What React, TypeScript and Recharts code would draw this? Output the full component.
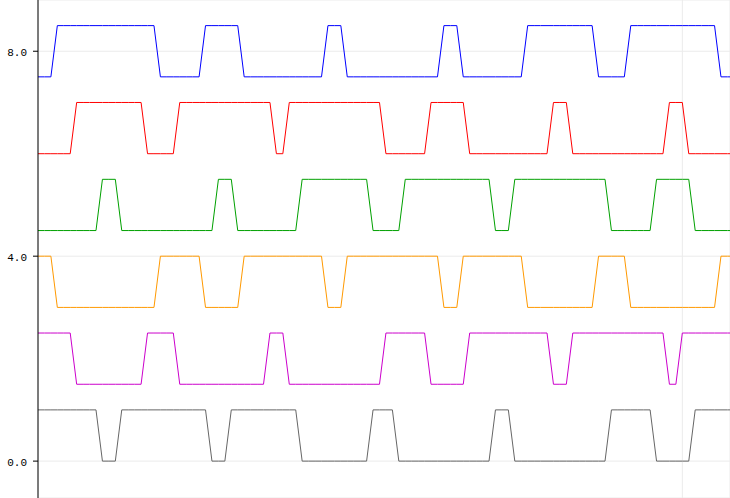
import React from "react";
import { CartesianGrid, Line, LineChart, XAxis, YAxis } from "recharts";

// one character per sample (t = 0..108), 1 = high, 0 = low
const blueBits =
  "0001111111 1111111110 0000001111 1100000000 0000011100 0000000000 0001110000 0000001111 1111111000 0011111111 111111000";
const redBits =
  "0000001111 1111111000 0011111111 1111111001 1111111111 1111000000 0111111000 0000000000 1110000000 0000000011 100000000";
const greenBits =
  "0000000000 1110000000 0000000011 1000000000 0111111111 1100000111 1111111111 1000111111 1111111110 0000001111 110000000";
const orangeBits =
  "1110000000 0000000001 1111110000 0011111111 1111100011 1111111111 1110001111 1111110000 0000000111 1100000000 000000111";
const magentaBits =
  "1111110000 0000000111 1100000000 0000001110 0000000000 0000111111 1000000111 1111111111 0001111111 1111111100 111111111";
const grayBits =
  "1111111111 0001111111 1111111000 1111111111 1000000000 0011110000 0000000000 0111000000 0000000001 1111110000 001111111";

// base level of each trace
const signals = [
  { key: "blue", bits: blueBits, base: 7.5, color: "#0000ff" },
  { key: "red", bits: redBits, base: 6, color: "#ff0000" },
  { key: "green", bits: greenBits, base: 4.5, color: "#00a000" },
  { key: "orange", bits: orangeBits, base: 3, color: "#ff9900" },
  { key: "magenta", bits: magentaBits, base: 1.5, color: "#cc00cc" },
  { key: "gray", bits: grayBits, base: 0, color: "#666666" },
];

const yTicks = [0, 4, 8];
const xTicks = [0, 100];

const clean = signals.map((s) => s.bits.replace(/ /g, ""));
const data = clean[0].split("").map((_, i) => {
  const row: Record<string, number> = { t: i };
  signals.forEach((s, j) => {
    row[s.key] = s.base + Number(clean[j][i]);
  });
  return row;
});

export default function App() {
  return (
    <div style={{ position: "absolute", left: 0, top: 0 }}>
      <LineChart
        width={730}
        height={498}
        data={data}
        margin={{ top: 0, right: 0, bottom: 0, left: 0 }}
      >
        <CartesianGrid stroke="#ebebeb" />
        <XAxis
          dataKey="t"
          type="number"
          domain={[0, 107.4]}
          ticks={xTicks}
          allowDataOverflow
          hide
        />
        <YAxis
          type="number"
          domain={[-0.72, 9]}
          ticks={yTicks}
          allowDataOverflow
          width={38}
          stroke="#000"
          tickSize={5}
          tickMargin={6}
          tickFormatter={(v: number) => v.toFixed(1)}
          tick={{ fill: "#000", fontSize: 11, fontFamily: "Liberation Mono", dy: 1 }}
        />
        {signals.map((s) => (
          <Line
            key={s.key}
            dataKey={s.key}
            type="linear"
            stroke={s.color}
            strokeWidth={1}
            dot={false}
            isAnimationActive={false}
          />
        ))}
      </LineChart>
    </div>
  );
}
